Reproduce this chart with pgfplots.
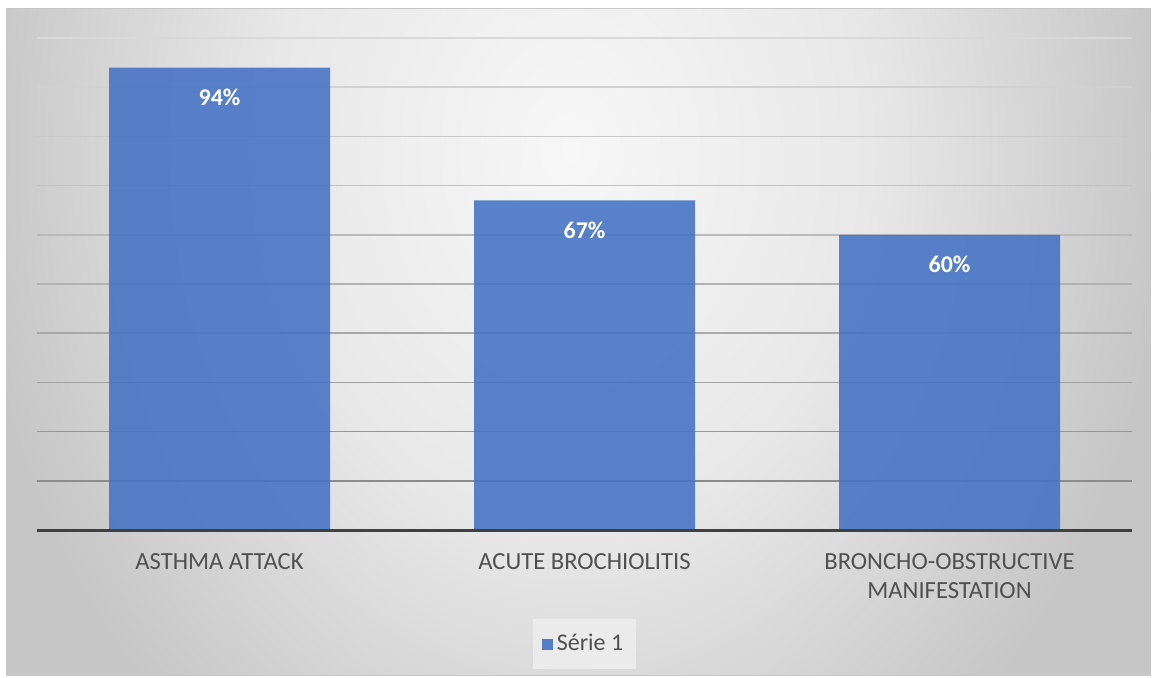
\documentclass[border=0pt]{standalone}
\usepackage{fontspec}
\setmainfont{Carlito}
\usepackage{pgfplots}
\pgfplotsset{compat=1.18}
\definecolor{barblue}{HTML}{4472C4}
\definecolor{txt}{HTML}{505050}
\definecolor{baseline}{HTML}{404040}
\definecolor{bgA}{HTML}{F7F7F7}
\definecolor{bgB}{HTML}{E8E8E8}
\definecolor{bgC}{HTML}{C6C6C6}
\pgfdeclareradialshading{bgshade}{\pgfpoint{0bp}{0bp}}{color(0bp)=(bgA); color(12.5bp)=(bgB); color(25bp)=(bgC); color(50bp)=(bgC)}
\begin{document}
\begin{tikzpicture}
\fill[white] (0pt,0pt) rectangle (576.5pt,338.5pt);
\begin{scope}
\clip (3pt,1pt) rectangle (575pt,334.5pt);
\fill[bgC] (3pt,1pt) rectangle (575pt,334.5pt);
\shade[shading=bgshade] (285pt,263.5pt) ellipse (300pt and 380pt);
\end{scope}
\draw[black!22, line width=0.5pt] (3pt,1pt) rectangle (575pt,334.5pt);
\begin{axis}[
  at={(18.5pt,73.5pt)}, anchor=south west,
  scale only axis, width=547.5pt, height=246pt,
  xmin=-0.5, xmax=2.5, ymin=0, ymax=100,
  clip=false,
  axis on top,
  axis y line=none, axis x line*=bottom,
  x axis line style={draw=baseline, line width=1.5pt, -},
  xtick={0,1,2},
  xticklabels={ASTHMA ATTACK, ACUTE BROCHIOLITIS, {BRONCHO-OBSTRUCTIVE\\MANIFESTATION}},
  xtick style={draw=none}, major tick length=0pt,
  xticklabel style={align=center, anchor=north, inner sep=0pt, yshift=-11.5pt, text=txt, font=\fontsize{12.3}{14.5}\selectfont},
  legend style={at={(0.5,-0.2317)}, anchor=center, draw=none, fill=black!8,
    font=\fontsize{12}{14.4}\selectfont, text=txt, inner xsep=4.5pt, inner ysep=5.5pt},
  legend image code/.code={\fill[barblue, fill opacity=0.9] (4pt,-2.75pt) rectangle (9.5pt,2.75pt);},
]
\draw[black!45, line width=0.75pt] (axis cs:-0.5,10) -- (axis cs:2.5,10);
\draw[black!41, line width=0.75pt] (axis cs:-0.5,20) -- (axis cs:2.5,20);
\draw[black!37, line width=0.75pt] (axis cs:-0.5,30) -- (axis cs:2.5,30);
\draw[black!34, line width=0.75pt] (axis cs:-0.5,40) -- (axis cs:2.5,40);
\draw[black!30, line width=0.75pt] (axis cs:-0.5,50) -- (axis cs:2.5,50);
\draw[black!27, line width=0.75pt] (axis cs:-0.5,60) -- (axis cs:2.5,60);
\draw[black!24, line width=0.75pt] (axis cs:-0.5,70) -- (axis cs:2.5,70);
\draw[black!21, line width=0.75pt] (axis cs:-0.5,80) -- (axis cs:2.5,80);
\draw[black!18, line width=0.75pt] (axis cs:-0.5,90) -- (axis cs:2.5,90);
\draw[black!15, line width=0.75pt] (axis cs:-0.5,100) -- (axis cs:2.5,100);
\addplot[ybar, bar width=110.5pt, fill=barblue, fill opacity=0.88, draw=none,
  nodes near coords={\pgfmathprintnumber[assume math mode=true]{\pgfplotspointmeta}\%},
  every node near coord/.append style={anchor=north, inner sep=0pt, yshift=-10.5pt, text=white,
    font=\bfseries\fontsize{12}{14.4}\selectfont, text opacity=1, fill opacity=1}]
  coordinates {(0,94) (1,67) (2,60)};
\addlegendentry{Série 1}
\end{axis}
\pgfresetboundingbox
\path (0pt,0pt) rectangle (576.5pt,338.5pt);
\end{tikzpicture}
\end{document}
